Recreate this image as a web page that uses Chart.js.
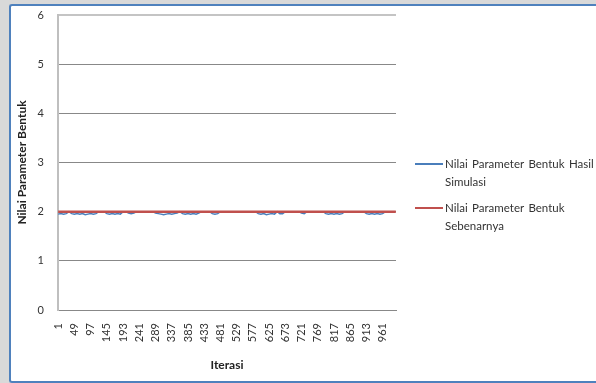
<!DOCTYPE html>
<html><head><meta charset="utf-8">
<script src="https://cdn.jsdelivr.net/npm/chart.js@4/dist/chart.umd.min.js"></script>
<style>
html,body{margin:0;padding:0;}
body{width:596px;height:383px;background:#d9d9d9;position:relative;overflow:hidden;font-family:Lato,'Liberation Sans',sans-serif;}
#frame{position:absolute;left:9px;top:4px;width:600px;height:375px;border:2px solid #4f81bd;border-right:none;background:#fff;border-radius:3px 0 0 3px;}
#wrap{position:absolute;left:0;top:0;width:596px;height:383px;}
#legend{position:absolute;left:415px;top:155px;font-size:11.5px;color:#333;}
.item{position:relative;padding-left:30px;width:154px;line-height:17.7px;margin-bottom:8.6px;word-spacing:1.5px;}
.item .sw{position:absolute;left:0;top:8px;width:28px;height:2px;}
</style>
</head><body>
<div id="frame"></div>
<div id="wrap"><canvas id="c" width="596" height="383"></canvas></div>
<div id="legend"></div>
<script>
// ---- data ----
const xTickLabels = [1,49,97,145,193,241,289,337,385,433,481,529,577,625,673,721,769,817,865,913,961];
const iterasiStep = 8; // simulated values read every 8 iterations, starting at iteration 1
const nilaiSimulasi = [
 1.95,1.96,1.95,1.96,2.00,1.96,1.95,1.96,1.95,1.96,
 1.94,1.95,1.96,1.95,1.96,2.00,2.00,2.00,1.96,1.95,
 1.96,1.95,1.96,1.95,2.00,2.00,1.97,1.96,1.97,2.00,
 2.00,2.00,2.00,2.00,2.00,2.00,1.97,1.96,1.95,1.94,
 1.95,1.96,1.95,1.96,1.97,2.00,1.96,1.95,1.96,1.95,
 1.96,1.95,1.97,2.00,2.00,2.00,2.00,1.96,1.95,1.96,
 2.00,2.00,2.00,2.00,2.00,2.00,2.00,2.00,2.00,2.00,
 2.00,2.00,2.00,2.00,1.96,1.95,1.96,1.94,1.95,1.96,
 1.95,2.00,1.96,1.96,2.00,2.00,2.00,2.00,2.00,2.00,
 1.97,1.96,2.00,2.00,2.00,2.00,2.00,2.00,2.00,1.96,
 1.95,1.96,1.95,1.96,1.95,1.96,2.00,2.00,2.00,2.00,
 2.00,2.00,2.00,2.00,1.96,1.95,1.96,1.95,1.96,1.95,
 1.96,2.00,2.00,2.00,2.00
];
const iterasiSebenarnya = [1, 1000];
const nilaiSebenarnya = [2, 2];
const yTicks = [0,1,2,3,4,5,6];

const simPoints = nilaiSimulasi.map((v,i)=>({x:1+i*iterasiStep, y:v}));
const truePoints = nilaiSebenarnya.map((v,i)=>({x:iterasiSebenarnya[i], y:v}));

const FONT = 'Lato';
const chart = new Chart(document.getElementById('c'), {
  type:'line',
  data:{datasets:[
    {label:'Nilai Parameter Bentuk Hasil Simulasi', data:simPoints, borderColor:'#4a7ebb', borderWidth:1.5, pointRadius:0, tension:0, order:2},
    {label:'Nilai Parameter Bentuk Sebenarnya', data:truePoints, borderColor:'#c0504d', borderWidth:2.5, pointRadius:0, tension:0, order:1}
  ]},
  options:{
    responsive:false, animation:false, devicePixelRatio:1,
    layout:{padding:{left:10,right:200,top:15,bottom:11}},
    plugins:{legend:{display:false}, tooltip:{enabled:false}},
    scales:{
      x:{type:'linear', min:0.5, max:1000.5,
        afterBuildTicks:a=>{a.ticks = xTickLabels.map(v=>({value:v}));},
        afterFit:s=>{s.height=62;},
        grid:{display:false, drawTicks:false},
        border:{display:true, color:'#888', width:1},
        ticks:{autoSkip:false, minRotation:90, maxRotation:90, padding:13, color:'#333', font:{family:FONT,size:11}},
        title:{display:true, text:'Iterasi', color:'#222', font:{family:FONT,size:12,weight:'bold'}, padding:0}
      },
      y:{min:0, max:6,
        afterBuildTicks:a=>{a.ticks = yTicks.map(v=>({value:v}));},
        afterFit:s=>{s.width=48; s.paddingTop=6; s.paddingBottom=6;},
        grid:{drawTicks:false, color:c=>c.tick && c.tick.value===6 ? '#c4c4c4' : '#888', lineWidth:c=>c.tick && c.tick.value===6 ? 2 : 1},
        border:{display:true, color:'#bfbfbf', width:2},
        ticks:{padding:14, color:'#333', font:{family:FONT,size:11}},
        title:{display:true, text:'Nilai Parameter Bentuk', color:'#222', font:{family:FONT,size:12,weight:'bold'}, padding:{top:5,bottom:0}}
      }
    }
  }
});

// HTML legend built from the datasets
const lg = document.getElementById('legend');
chart.data.datasets.forEach(ds=>{
  const d = document.createElement('div'); d.className='item';
  const sw = document.createElement('span'); sw.className='sw'; sw.style.background = ds.borderColor;
  d.appendChild(sw); d.appendChild(document.createTextNode(ds.label));
  lg.appendChild(d);
});
</script>
</body></html>
